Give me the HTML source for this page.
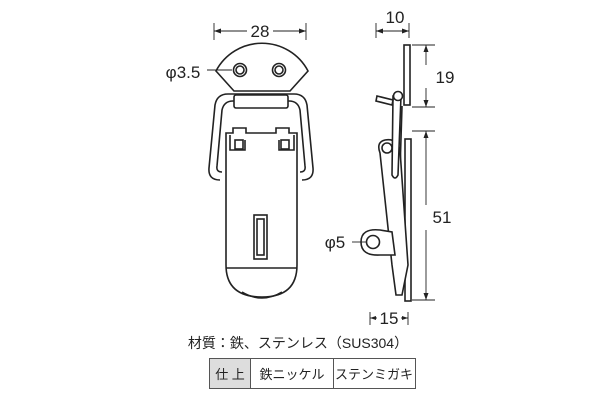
<!DOCTYPE html>
<html><head><meta charset="utf-8"><style>
html,body{margin:0;padding:0;background:#fff;}
svg{display:block;font-family:"Liberation Sans","Noto Sans CJK JP",sans-serif;}
</style></head><body>
<svg width="600" height="400" viewBox="0 0 600 400" xmlns="http://www.w3.org/2000/svg">
<g fill="none" stroke="#222" stroke-width="1.6">
<!-- dim 28 -->
<line x1="214" y1="23" x2="214" y2="40" stroke-width="0.9"/>
<line x1="306" y1="23" x2="306" y2="40" stroke-width="0.9"/>
<line x1="214" y1="31" x2="247" y2="31" stroke-width="0.9"/>
<line x1="273" y1="31" x2="306" y2="31" stroke-width="0.9"/>
<!-- top plate -->
<path d="M216 71 A52 52 0 0 1 308 71 L290 91 L234 91 Z" fill="#fff"/>
<circle cx="240" cy="70" r="6.5"/><circle cx="240" cy="70" r="4"/>
<circle cx="279" cy="70" r="6.5"/><circle cx="279" cy="70" r="4"/>
<line x1="207" y1="70" x2="232" y2="70" stroke-width="0.9"/>
<!-- wire loop -->
<path d="M220 180 Q208 180 209 168 L215 105 Q217 94 228 94 L294 94 Q305 94 307 105 L313 168 Q314 180 302 180"/>
<path d="M222 172 Q216 172 217 166 L222 110 Q224 101 233 101 L289 101 Q298 101 300 110 L305 166 Q306 172 300 172"/>
<rect x="234" y="95" width="54" height="13" rx="2" fill="#fff"/>
<!-- body -->
<path d="M226 180 L226 133 L233 133 L233 128 L246 128 L246 133 L276 133 L276 128 L289 128 L289 133 L297 133 L297 265 Q297 297 262 297 Q226 297 226 265 Z" fill="#fff"/>
<path d="M230 135 L230 150 L245 150 L245 140 M279 140 L279 150 L294 150 L294 135"/>
<rect x="235" y="140" width="8" height="9"/><rect x="281" y="140" width="8" height="9"/>
<line x1="226" y1="268" x2="297" y2="268"/>
<path d="M242 292 Q262 304 282 292" />
<rect x="254" y="215" width="13" height="44"/>
<rect x="257" y="219" width="7" height="36"/>
<!-- side view dims -->
<line x1="376" y1="23" x2="376" y2="38" stroke-width="0.9"/>
<line x1="409" y1="23" x2="409" y2="38" stroke-width="0.9"/>
<line x1="376" y1="31" x2="409" y2="31" stroke-width="0.9"/>
<line x1="412" y1="45" x2="435" y2="45" stroke-width="0.9"/>
<line x1="412" y1="107" x2="435" y2="107" stroke-width="0.9"/>
<line x1="426" y1="45" x2="426" y2="65" stroke-width="0.9"/>
<line x1="426" y1="88" x2="426" y2="107" stroke-width="0.9"/>
<line x1="412" y1="131" x2="435" y2="131" stroke-width="0.9"/>
<line x1="412" y1="300" x2="435" y2="300" stroke-width="0.9"/>
<line x1="426" y1="131" x2="426" y2="205" stroke-width="0.9"/>
<line x1="426" y1="230" x2="426" y2="300" stroke-width="0.9"/>
<!-- strip -->
<rect x="404" y="45" width="6" height="60" fill="#fff"/>
<rect x="405" y="139" width="6" height="162" fill="#fff"/>
<path d="M402 106 L400 170" />
<!-- arm -->
<path d="M385 140 Q376 142 380 153 L392 265 L396 295 L402 295 L408 265 L400 150 Q397 138 385 140 Z" fill="#fff"/>
<circle cx="387" cy="148" r="5" fill="#fff"/>
<!-- lug -->
<path d="M380 230 Q361 228 361 242 Q361 256 380 255 L395 255 L392 232 Z" fill="#fff"/>
<circle cx="373" cy="242" r="6.5" fill="#fff"/>
<line x1="352" y1="242" x2="366" y2="242" stroke-width="0.9"/>
<!-- lever -->
<path d="M393 96 L401 96 L398 175 Q395 181 392 175 Z" fill="#fff"/>
<circle cx="398" cy="96" r="4.5" fill="#fff"/>
<path d="M377 96 L393 100 L392 105 L376 101 Z" fill="#fff"/>
<!-- dim 15 -->
<line x1="370" y1="312" x2="370" y2="325" stroke-width="0.9"/>
<line x1="408" y1="312" x2="408" y2="325" stroke-width="0.9"/>
<line x1="370" y1="318" x2="377" y2="318" stroke-width="0.9"/>
<line x1="401" y1="318" x2="408" y2="318" stroke-width="0.9"/>
</g>
<g fill="#222">
<path d="M214 31 l7 -2.5 v5z M306 31 l-7 -2.5 v5z M376 31 l7 -2.5 v5z M409 31 l-7 -2.5 v5z
M426 45 l-2.5 7 h5z M426 107 l-2.5 -7 h5z M426 131 l-2.5 7 h5z M426 300 l-2.5 -7 h5z
M370 318 l6 -2 v4z M408 318 l-6 -2 v4z"/>
</g>
<g font-size="17" fill="#222" text-anchor="middle">
<text x="260" y="37">28</text>
<text x="395" y="23">10</text>
<text x="445" y="83">19</text>
<text x="442" y="223">51</text>
<text x="389" y="324">15</text>
<text x="183" y="78">φ3.5</text>
<text x="335" y="248">φ5</text>
</g>
<text x="298" y="348" font-size="14" fill="#222" text-anchor="middle">材質：鉄、ステンレス（SUS304）</text>
<rect x="209.5" y="358.5" width="41" height="30" fill="#ddd" stroke="#555"/>
<rect x="250.5" y="358.5" width="83" height="30" fill="#fff" stroke="#555"/>
<rect x="333.5" y="358.5" width="82" height="30" fill="#fff" stroke="#555"/>
<g font-size="13" fill="#222" text-anchor="middle">
<text x="230" y="379">仕 上</text>
<text x="292" y="379">鉄ニッケル</text>
<text x="374" y="379">ステンミガキ</text>
</g>
</svg>
</body></html>
